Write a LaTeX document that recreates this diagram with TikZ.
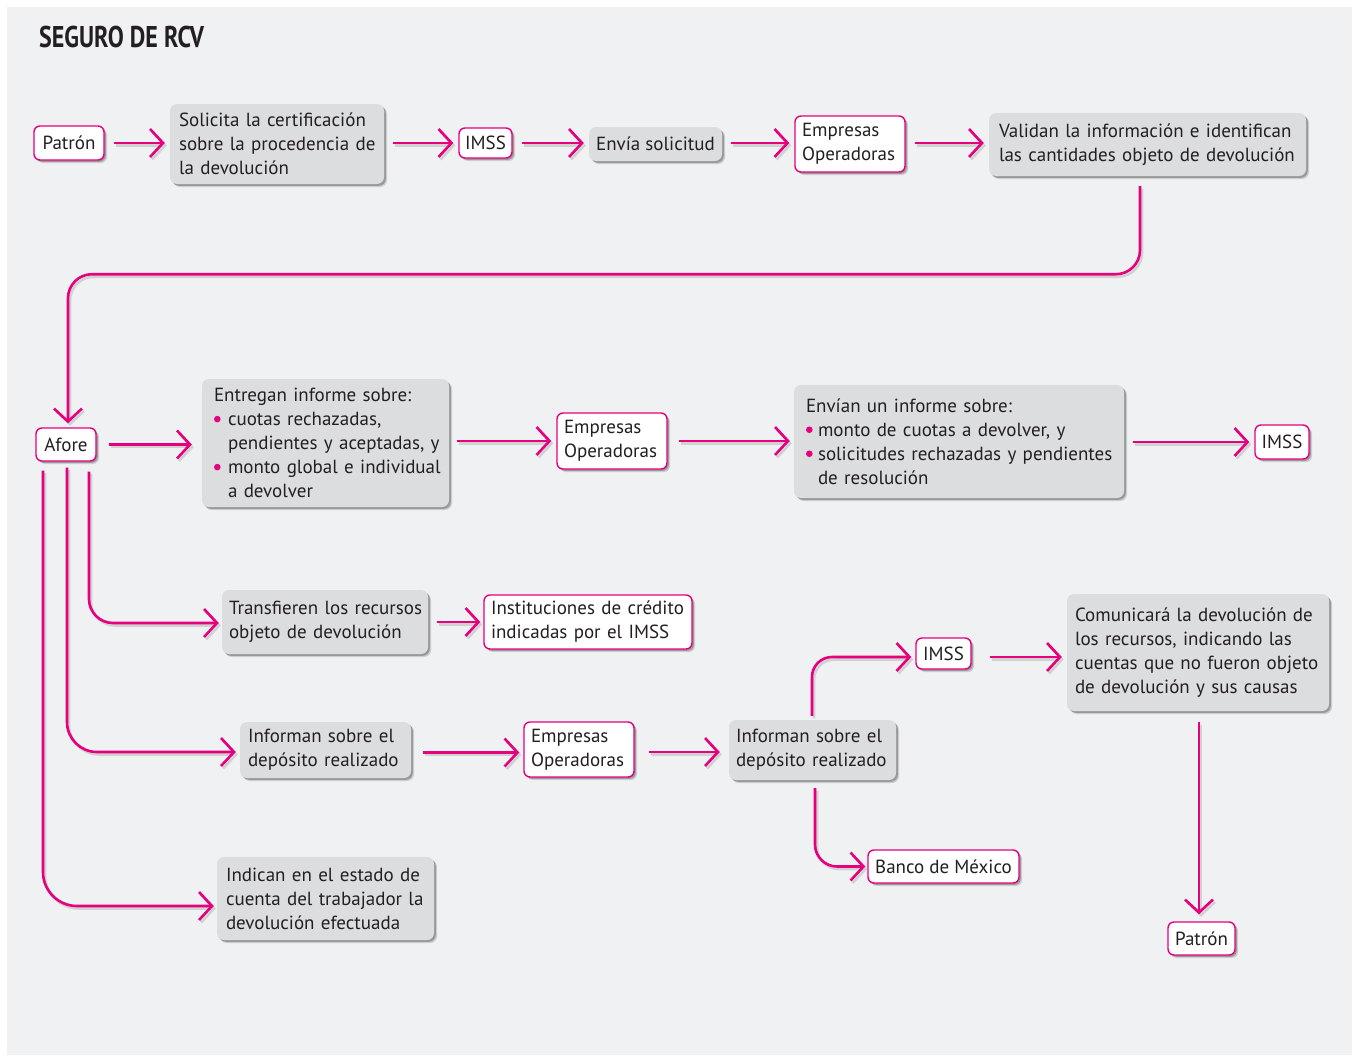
\documentclass[tikz,border=0pt]{standalone}
\usepackage{fontspec}
\setmainfont{PT Sans}
\usetikzlibrary{arrows.meta,shadows,calc}
\definecolor{mag}{RGB}{230,0,126}
\definecolor{panel}{RGB}{240,241,243}
\definecolor{boxgray}{RGB}{220,221,223}
\definecolor{txt}{RGB}{35,31,32}
\newcommand{\dotmark}{\tikz[baseline=0pt,x=1pt,y=1pt]\fill[mag] (3.5,6.5) circle[radius=3.3pt];}
\newcommand{\bul}{\makebox[14pt][l]{\dotmark}}
\newcommand{\bulb}{\makebox[12pt][l]{\dotmark}}
\newcommand{\ind}{\hspace*{14pt}}
\newcommand{\li}[1]{\mbox{#1}}
\tikzset{
  base/.style={inner sep=0pt, text=txt, font=\fontsize{19pt}{24pt}\selectfont,
    execute at begin node={\hbadness=10000\hfuzz=200pt},
    general shadow={shadow xshift=3pt, shadow yshift=-3pt, fill=black!45, opacity=0.35},
    general shadow={shadow xshift=1.8pt, shadow yshift=-1.8pt, fill=black!60, opacity=0.5}},
  gbox/.style={base, fill=boxgray, rounded corners=7pt, align=left},
  wbox/.style={base, fill=white, draw=mag, line width=1.4pt, rounded corners=6pt, align=left},
  arr/.style={draw=mag, line width=2.6pt, -{Straight Barb[length=13pt,width=28pt,line width=2.6pt]},
    shorten <=9pt, shorten >=5pt,
    preaction={draw=black!18, line width=2.6pt, transform canvas={xshift=2pt,yshift=-2.5pt}}},
}
\begin{document}
\begin{tikzpicture}[x=1pt,y=-1pt]
\useasboundingbox (0,0) rectangle (1354,1057);
\fill[white] (0,0) rectangle (1354,1057);
\fill[panel] (7,7) rectangle (1352,1055);
\node[anchor=base west, inner sep=0pt, text=txt] (title) at (39,48)
  {\scalebox{0.8}[1]{\fontsize{30pt}{30pt}\selectfont\bfseries SEGURO DE RCV}};

% row 1
\node[wbox, minimum width=70pt, minimum height=34pt] (patron1) at (69,143) {Patrón};
\node[gbox, minimum width=214pt, minimum height=80pt, text width=196pt] (solicita) at (277,144)
  {\li{Solicita la certificación}\\\li{sobre la procedencia de}\\\li{la devolución}};
\node[wbox, minimum width=53pt, minimum height=30pt] (imss1) at (485.5,143) {IMSS};
\node[gbox, minimum width=133pt, minimum height=34pt] (envia) at (655.5,144) {Envía solicitud};
\node[wbox, minimum width=110pt, minimum height=56pt, text width=96pt] (emp1) at (850,144)
  {Empresas\\Operadoras};
\node[gbox, minimum width=317pt, minimum height=63pt, text width=297pt] (validan) at (1147.5,144.5)
  {\li{Validan la información e identifican}\\\li{las cantidades objeto de devolución}};

% row 2
\node[wbox, minimum width=60pt, minimum height=33pt] (afore) at (66,444.5) {Afore};
\node[gbox, minimum width=247pt, minimum height=128pt, text width=223pt] (entregan) at (325.5,443)
  {\li{Entregan informe sobre:}\\\li{\bul cuotas rechazadas,}\\\li{\ind pendientes y aceptadas, y}\\\li{\bul monto global e individual}\\\li{\ind a devolver}};
\node[wbox, minimum width=110pt, minimum height=56pt, text width=96pt] (emp2) at (612,441)
  {Empresas\\Operadoras};
\node[gbox, minimum width=330pt, minimum height=113pt, text width=306pt] (envian) at (959,441.5)
  {\li{Envían un informe sobre:}\\\li{\bulb monto de cuotas a devolver, y}\\\li{\bulb solicitudes rechazadas y pendientes}\\\li{\hspace*{12pt}de resolución}};
\node[wbox, minimum width=54pt, minimum height=34pt] (imss2) at (1282,442) {IMSS};

% lower part
\node[gbox, minimum width=206pt, minimum height=64pt, text width=192pt] (transf) at (325,622)
  {\li{Transfieren los recursos}\\\li{objeto de devolución}};
\node[wbox, minimum width=208pt, minimum height=54pt, text width=194pt] (inst) at (588,622)
  {\li{Instituciones de crédito}\\\li{indicadas por el IMSS}};
\node[gbox, minimum width=171pt, minimum height=56pt, text width=155pt] (inf1) at (325.5,750)
  {\li{Informan sobre el}\\\li{depósito realizado}};
\node[wbox, minimum width=110pt, minimum height=55pt, text width=96pt] (emp3) at (579,749.5)
  {Empresas\\Operadoras};
\node[gbox, minimum width=167pt, minimum height=60pt, text width=153pt] (inf2) at (812.5,750)
  {\li{Informan sobre el}\\\li{depósito realizado}};
\node[wbox, minimum width=55pt, minimum height=31pt] (imss3) at (943.5,653.5) {IMSS};
\node[gbox, minimum width=262pt, minimum height=117pt, text width=246pt] (comun) at (1198,652.5)
  {\li{Comunicará la devolución de}\\\li{los recursos, indicando las}\\\li{cuentas que no fueron objeto}\\\li{de devolución y sus causas}};
\node[wbox, minimum width=67pt, minimum height=33pt] (patron2) at (1201.5,938.5) {Patrón};
\node[wbox, minimum width=151pt, minimum height=33pt] (banco) at (943.5,866.5) {Banco de México};
\node[gbox, minimum width=217pt, minimum height=83pt, text width=199pt] (indican) at (325.5,898.5)
  {\li{Indican en el estado de}\\\li{cuenta del trabajador la}\\\li{devolución efectuada}};

% connectors row 1
\draw[arr] (patron1.east) -- (solicita.west |- patron1.east);
\draw[arr] (solicita.west |- imss1.east) ++(214,0) -- (imss1.west);
\draw[arr] (imss1.east) -- (envia.west |- imss1.east);
\draw[arr] (envia.east |- emp1.west) ++(0,-1) -- ($(emp1.west)+(0,-1)$);
\draw[arr] (emp1.east |- 0,143) -- (validan.west |- 0,143);
% long connector
\draw[arr, rounded corners=24pt, shorten <=10pt, shorten >=4pt]
  ([xshift=-7.5pt]validan.south) -- ++(0,98) -| ([xshift=2pt]afore.north);
% row 2
\draw[arr, shorten <=12pt, shorten >=10pt] (afore.east) -- (entregan.west |- afore.east);
\draw[arr, shorten <=8pt] (entregan.east |- emp2.west) -- (emp2.west);
\draw[arr, shorten <=11pt, shorten >=4pt] (emp2.east) -- (envian.west |- emp2.east);
\draw[arr, shorten >=5pt] (envian.east |- imss2.west) -- (imss2.west);
% branches from Afore
\draw[arr, rounded corners=24pt, shorten <=10pt, shorten >=3pt] ([xshift=23pt]afore.south) |- ([yshift=-1pt]transf.west);
\draw[arr, rounded corners=30pt, shorten <=6pt, shorten >=4pt] ([xshift=1pt]afore.south) |- ([yshift=-2pt]inf1.west);
\draw[arr, rounded corners=34pt, shorten <=9pt, shorten >=3pt] ([xshift=-23pt]afore.south) |- ([yshift=-7.5pt]indican.west);
% lower rows
\draw[arr, shorten <=9pt, shorten >=3pt] (transf.east |- inst.west) -- (inst.west);
\draw[arr, shorten <=12pt, shorten >=4pt] (inf1.east |- emp3.west) ++(0,3) -- ($(emp3.west)+(0,3)$);
\draw[arr, shorten <=14pt, shorten >=9pt] (emp3.east |- 0,752) -- (inf2.west |- 0,752);
\draw[arr, rounded corners=20pt, shorten <=4pt, shorten >=4pt] ([xshift=-0.5pt]inf2.north) |- ([yshift=-3.5pt]imss3.west);
\draw[arr, rounded corners=22pt, shorten <=8pt, shorten >=2pt] ([xshift=2.5pt]inf2.south) |- (banco.west);
\draw[arr, shorten <=18pt, shorten >=5pt] (imss3.east |- 0,657) -- (comun.west |- 0,657);
\draw[arr, shorten <=11pt, shorten >=7pt] (comun.south -| 1199,0) -- (patron2.north -| 1199,0);
\end{tikzpicture}
\end{document}
